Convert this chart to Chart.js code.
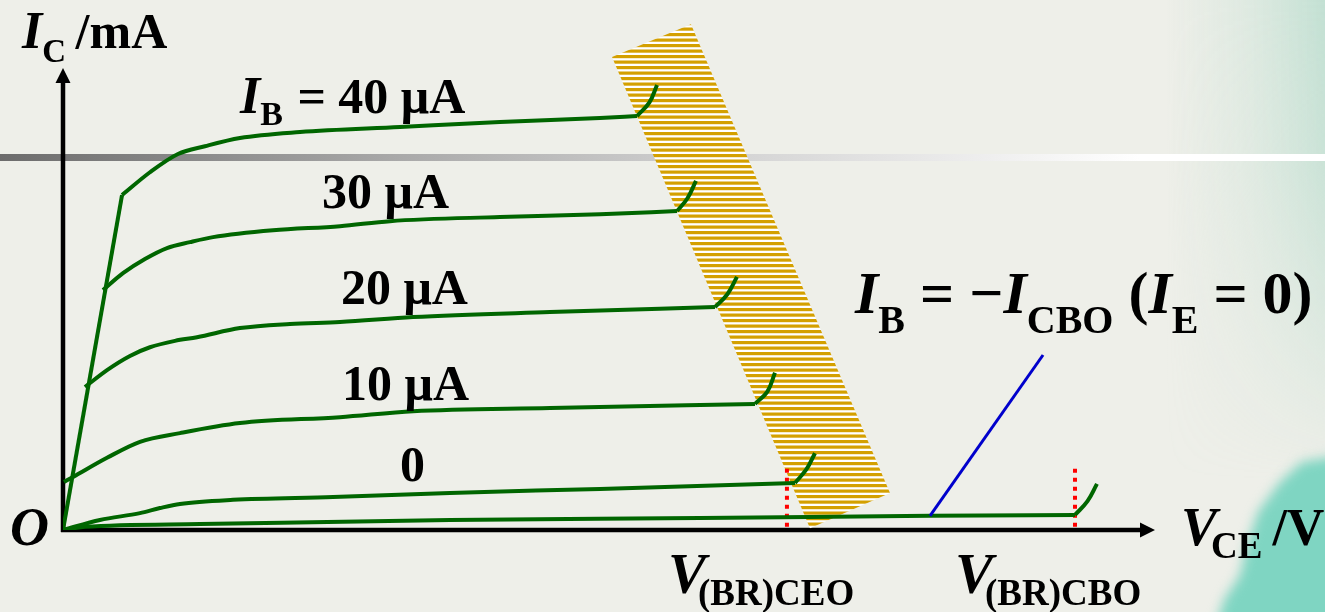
<!DOCTYPE html>
<html>
<head>
<meta charset="utf-8">
<script src="https://cdn.jsdelivr.net/npm/chart.js@4.4.1/dist/chart.umd.min.js"></script>
<style>
  html, body { margin: 0; padding: 0; background: #eeefe9; }
</style>
</head>
<body>
<canvas id="outChart" width="1325" height="612"></canvas>
<script>
// output characteristics, V_CE (x) against I_C (y), values as [V, mA]
const satLine = [[0, 0], [5.43, 7.33]];
const ib40 = [[5.43, 7.33], [8.0, 7.83], [10.58, 8.23], [13.06, 8.40], [16.28, 8.58], [21.8, 8.71], [31.0, 8.82], [40.2, 8.93], [49.4, 9.02], [52.81, 9.06]];
const ib30 = [[3.68, 5.25], [5.52, 5.62], [7.54, 5.93], [9.57, 6.17], [11.68, 6.30], [13.8, 6.41], [19.32, 6.56], [25.48, 6.65], [30.08, 6.76], [40.2, 6.85], [49.4, 6.91], [56.49, 6.98]];
const ib20 = [[2.02, 3.13], [4.05, 3.50], [6.16, 3.81], [8.0, 4.0], [10.3, 4.14], [12.33, 4.22], [16.28, 4.42], [20.88, 4.51], [25.48, 4.55], [32.2, 4.66], [44.8, 4.77], [59.98, 4.88]];
const ib10 = [[0.09, 1.05], [0.92, 1.16], [4.05, 1.58], [7.08, 1.93], [10.76, 2.12], [16.28, 2.34], [25.48, 2.47], [32.2, 2.60], [44.8, 2.67], [63.66, 2.76]];
const ib0 = [[0, 0], [3.4, 0.22], [7.08, 0.37], [8.92, 0.48], [10.76, 0.57], [15.64, 0.66], [24.84, 0.72], [35.6, 0.81], [49.4, 0.90], [67.34, 1.03]];
const ibCbo = [[0, 0], [2.02, 0.07], [12.6, 0.13], [35.6, 0.22], [58.6, 0.26], [79.76, 0.31], [93.1, 0.33]];

// breakdown hooks at the end of each curve
const hook40 = [[52.81, 9.06], [53.95, 9.36], [54.65, 9.74]];
const hook30 = [[56.49, 6.98], [57.45, 7.26], [58.23, 7.64]];
const hook20 = [[59.98, 4.88], [61.12, 5.16], [62.0, 5.54]];
const hook10 = [[63.66, 2.76], [64.8, 3.03], [65.5, 3.44]];
const hook0 = [[67.34, 1.03], [68.4, 1.33], [69.18, 1.68]];
const hookCbo = [[93.1, 0.33], [94.25, 0.63], [95.12, 1.01]];

// breakdown region band and the pointer to the I_CBO curve
const breakdownBand = [[50.51, 10.35], [57.77, 11.07], [76.08, 0.81], [68.72, 0.04]];
const cboPointer = [[79.76, 0.31], [90.16, 3.83]];

// V(BR)CEO and V(BR)CBO markers
const vBreakdown = [66.6, 93.1];
const markerSpan = [0.07, 1.38];

const axisMaxV = 100;
const axisMaxI = 10;

const GREEN = '#006600';
const serif = "'Liberation Serif', 'Times New Roman', serif";

const pts = arr => arr.map(([x, y]) => ({ x, y }));

function hatchPattern() {
  const c = document.createElement('canvas');
  c.width = 8; c.height = 11;
  const g = c.getContext('2d');
  g.fillStyle = '#ffffff';
  g.fillRect(0, 0, 8, 11);
  g.fillStyle = '#d4a000';
  g.fillRect(0, 0, 8, 3.2);
  g.fillRect(0, 5.5, 8, 3.2);
  return g.createPattern(c, 'repeat');
}

function curve(data) {
  return { data: pts(data), borderColor: GREEN, borderWidth: 4, cubicInterpolationMode: 'monotone', order: 0 };
}
function hook(data) {
  return { data: pts(data), borderColor: GREEN, borderWidth: 4, tension: 0.4, order: 0 };
}
function marker(v) {
  return { data: pts([[v, markerSpan[0]], [v, markerSpan[1]]]), borderColor: '#ff0000', borderWidth: 4, borderDash: [4, 5], order: 1 };
}

const datasets = [
  { data: pts(breakdownBand), backgroundColor: hatchPattern(), borderWidth: 0, fill: 'shape', order: 10 },
  marker(vBreakdown[0]),
  marker(vBreakdown[1]),
  { data: pts(cboPointer), borderColor: '#0000cc', borderWidth: 3, order: 0 },
  { data: pts(satLine), borderColor: GREEN, borderWidth: 4, order: 0 },
  curve(ib40), curve(ib30), curve(ib20), curve(ib10), curve(ib0), curve(ibCbo),
  hook(hook40), hook(hook30), hook(hook20), hook(hook10), hook(hook0), hook(hookCbo)
];

// slide backdrop: pale base, grey rule, green wash on the right
const backdrop = {
  id: 'backdrop',
  beforeDraw(chart) {
    const ctx = chart.ctx, W = chart.width, H = chart.height;
    ctx.save();
    ctx.fillStyle = '#eeefe9';
    ctx.fillRect(0, 0, W, H);

    // faint wash down the right edge, fading out towards the bottom
    const wash = document.createElement('canvas');
    wash.width = 160; wash.height = 480;
    const wc = wash.getContext('2d');
    let g = wc.createLinearGradient(0, 0, 160, 0);
    g.addColorStop(0, 'rgba(180,220,204,0)');
    g.addColorStop(0.5, 'rgba(180,220,204,0.25)');
    g.addColorStop(1, 'rgba(165,214,196,0.6)');
    wc.fillStyle = g;
    wc.fillRect(0, 0, 160, 480);
    wc.globalCompositeOperation = 'destination-in';
    g = wc.createLinearGradient(0, 0, 0, 480);
    g.addColorStop(0, 'rgba(0,0,0,1)');
    g.addColorStop(0.35, 'rgba(0,0,0,0.8)');
    g.addColorStop(1, 'rgba(0,0,0,0)');
    wc.fillStyle = g;
    wc.fillRect(0, 0, 160, 480);
    ctx.drawImage(wash, W - 160, 0);

    ctx.filter = 'blur(6px)';
    ctx.fillStyle = '#7fd5c2';
    ctx.beginPath();
    ctx.moveTo(W + 20, 455);
    ctx.lineTo(1302, 462);
    ctx.lineTo(1280, 482);
    ctx.lineTo(1258, 512);
    ctx.lineTo(1247, 545);
    ctx.lineTo(1240, 575);
    ctx.lineTo(1224, 600);
    ctx.lineTo(1214, H + 20);
    ctx.lineTo(W + 20, H + 20);
    ctx.closePath();
    ctx.fill();
    ctx.filter = 'none';

    g = ctx.createLinearGradient(0, 0, W, 0);
    g.addColorStop(0, '#6c6c6c');
    g.addColorStop(0.3, '#a9a9a9');
    g.addColorStop(0.55, '#d3d3d3');
    g.addColorStop(0.75, '#efefef');
    g.addColorStop(0.86, '#ffffff');
    g.addColorStop(1, '#ffffff');
    ctx.fillStyle = g;
    ctx.fillRect(0, 154, W, 7);
    ctx.restore();
  }
};

// axes with arrow heads
const arrowAxes = {
  id: 'arrowAxes',
  beforeDatasetsDraw(chart) {
    const ctx = chart.ctx, xs = chart.scales.x, ys = chart.scales.y;
    const x0 = xs.getPixelForValue(0), y0 = ys.getPixelForValue(0);
    const xEnd = xs.getPixelForValue(axisMaxV), yEnd = ys.getPixelForValue(axisMaxI);
    ctx.save();
    ctx.strokeStyle = '#000';
    ctx.fillStyle = '#000';
    ctx.lineWidth = 4.5;
    ctx.beginPath();
    ctx.moveTo(x0 - 2, y0);
    ctx.lineTo(xEnd - 8, y0);
    ctx.moveTo(x0, y0 + 2);
    ctx.lineTo(x0, yEnd + 8);
    ctx.stroke();
    ctx.beginPath();
    ctx.moveTo(xEnd + 5, y0);
    ctx.lineTo(xEnd - 10, y0 - 7.5);
    ctx.lineTo(xEnd - 10, y0 + 7.5);
    ctx.closePath();
    ctx.moveTo(x0, yEnd - 5);
    ctx.lineTo(x0 - 7.5, yEnd + 10);
    ctx.lineTo(x0 + 7.5, yEnd + 10);
    ctx.closePath();
    ctx.fill();
    ctx.restore();
  }
};

// text runs: [text, style, size, baseline shift, extra gap before]
const textLabels = [
  { at: [16.28, 9.13], runs: [['I', 'italic bold', 52, 0], ['B', 'bold', 34, 12], [' = 40 μA', 'bold', 50, 0, 2]] },
  { at: [23.83, 7.05], runs: [['30 μA', 'bold', 50, 0]] },
  { at: [25.57, 4.95], runs: [['20 μA', 'bold', 50, 0]] },
  { at: [25.67, 2.85], runs: [['10 μA', 'bold', 50, 0]] },
  { at: [31.0, 1.07], runs: [['0', 'bold', 50, 0]] },
  { at: [72.86, 4.75], runs: [['I', 'italic bold', 60, 0], ['B', 'bold', 40, 20], [' = −', 'bold', 60, 0], ['I', 'italic bold', 60, 0], ['CBO', 'bold', 40, 20], [' (', 'bold', 60, 0], ['I', 'italic bold', 60, 0], ['E', 'bold', 40, 20], [' = 0)', 'bold', 60, 0]] },
  { at: [55.66, -1.38], runs: [['V', 'italic bold', 57, 0], ['(BR)CEO', 'bold', 37, 12, -8]] },
  { at: [82.06, -1.38], runs: [['V', 'italic bold', 57, 0], ['(BR)CBO', 'bold', 37, 12, -8]] },
  { at: [102.85, -0.33], runs: [['V', 'italic bold', 54, 0], ['CE', 'bold', 37, 13, -6], [' /V', 'bold', 52, 0, -3]] },
  { at: [-4.88, -0.33], runs: [['O', 'italic bold', 54, 0]] },
  { at: [-3.77, 10.55], runs: [['I', 'italic bold', 52, 0], ['C', 'bold', 33, 14], [' /mA', 'bold', 50, 0, -3]] }
];

const labelText = {
  id: 'labelText',
  afterDatasetsDraw(chart) {
    const ctx = chart.ctx, xs = chart.scales.x, ys = chart.scales.y;
    ctx.save();
    ctx.fillStyle = '#000';
    ctx.textBaseline = 'alphabetic';
    textLabels.forEach(lbl => {
      let x = xs.getPixelForValue(lbl.at[0]);
      const y = ys.getPixelForValue(lbl.at[1]);
      lbl.runs.forEach(([t, style, size, dy, gap]) => {
        ctx.font = style + ' ' + size + 'px ' + serif;
        x += gap || 0;
        ctx.fillText(t, x, y + dy);
        x += ctx.measureText(t).width;
      });
    });
    ctx.restore();
  }
};

new Chart(document.getElementById('outChart'), {
  type: 'scatter',
  data: { datasets },
  options: {
    responsive: false,
    animation: false,
    showLine: true,
    layout: { padding: { left: 63, right: 175, top: 0, bottom: 82 } },
    elements: {
      point: { radius: 0, hoverRadius: 0 },
      line: { fill: false, borderCapStyle: 'butt', borderJoinStyle: 'round' }
    },
    scales: {
      x: { type: 'linear', display: false, min: 0, max: axisMaxV },
      y: { type: 'linear', display: false, min: 0, max: 11.6 }
    },
    plugins: { legend: { display: false }, tooltip: { enabled: false } }
  },
  plugins: [backdrop, arrowAxes, labelText]
});
</script>
</body>
</html>
